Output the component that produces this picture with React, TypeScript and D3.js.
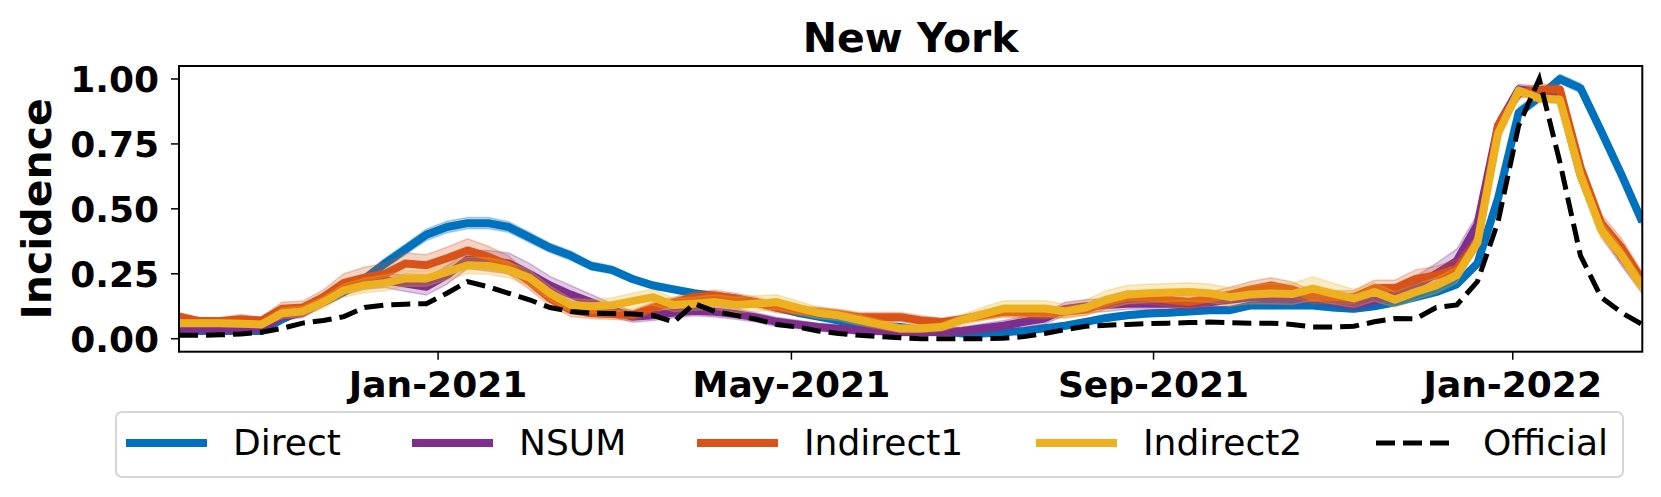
import React from 'react';
import * as d3 from 'd3';

// weekly points, 2020-10-05 .. 2022-02-14
const START = new Date(2020, 9, 5);
const N_WEEKS = 72;

const direct = [
  0.03, 0.03, 0.03, 0.03, 0.03, 0.075, 0.11, 0.14, 0.18, 0.23,
  0.29, 0.345, 0.40, 0.43, 0.445, 0.445, 0.43, 0.39, 0.35, 0.32,
  0.28, 0.265, 0.23, 0.205, 0.19, 0.175, 0.165, 0.155, 0.14, 0.12,
  0.10, 0.085, 0.07, 0.055, 0.05, 0.045, 0.035, 0.03, 0.02, 0.02,
  0.025, 0.03, 0.04, 0.05, 0.065, 0.08, 0.09, 0.097, 0.10, 0.105,
  0.11, 0.11, 0.128, 0.128, 0.128, 0.128, 0.12, 0.115, 0.125, 0.14,
  0.16, 0.18, 0.21, 0.29, 0.54, 0.87, 0.93, 1.0, 0.965, 0.80,
  0.63, 0.45,
];
const nsum = [
  0.04, 0.035, 0.035, 0.035, 0.037, 0.085, 0.10, 0.145, 0.19, 0.215,
  0.225, 0.212, 0.20, 0.245, 0.305, 0.30, 0.29, 0.25, 0.205, 0.17,
  0.14, 0.11, 0.085, 0.09, 0.10, 0.108, 0.104, 0.095, 0.082, 0.065,
  0.055, 0.045, 0.038, 0.032, 0.03, 0.026, 0.026, 0.026, 0.03, 0.04,
  0.05, 0.065, 0.078, 0.115, 0.125, 0.13, 0.135, 0.135, 0.135, 0.135,
  0.14, 0.15, 0.16, 0.155, 0.155, 0.16, 0.145, 0.13, 0.15, 0.17,
  0.205, 0.25, 0.30, 0.44, 0.82, 0.96, 0.95, 0.93, 0.63, 0.43,
  0.315, 0.205,
];
const indirect1 = [
  0.085, 0.068, 0.068, 0.075, 0.07, 0.115, 0.12, 0.16, 0.215, 0.235,
  0.25, 0.29, 0.283, 0.31, 0.34, 0.316, 0.283, 0.22, 0.155, 0.11,
  0.098, 0.095, 0.09, 0.12, 0.14, 0.16, 0.167, 0.155, 0.14, 0.12,
  0.108, 0.103, 0.095, 0.083, 0.083, 0.083, 0.07, 0.064, 0.075, 0.09,
  0.103, 0.10, 0.097, 0.105, 0.112, 0.14, 0.16, 0.16, 0.15, 0.141,
  0.155, 0.17, 0.19, 0.205, 0.19, 0.16, 0.16, 0.16, 0.195, 0.195,
  0.23, 0.244, 0.27, 0.37, 0.82, 0.945, 0.96, 0.96, 0.66, 0.445,
  0.35, 0.225,
];
const indirect2 = [
  0.06, 0.06, 0.06, 0.058, 0.055, 0.098, 0.105, 0.14, 0.186, 0.205,
  0.215, 0.232, 0.232, 0.257, 0.283, 0.28, 0.265, 0.235, 0.175, 0.13,
  0.125, 0.129, 0.145, 0.16, 0.13, 0.135, 0.141, 0.13, 0.135, 0.141,
  0.12, 0.10, 0.09, 0.072, 0.055, 0.039, 0.039, 0.045, 0.072, 0.095,
  0.116, 0.116, 0.116, 0.105, 0.12, 0.15, 0.17, 0.175, 0.178, 0.18,
  0.175, 0.16, 0.17, 0.174, 0.172, 0.193, 0.174, 0.155, 0.18, 0.15,
  0.18, 0.205, 0.245, 0.37, 0.79, 0.955, 0.925, 0.92, 0.63, 0.42,
  0.32, 0.20,
];
const official = [
  0.013, 0.013, 0.015, 0.018, 0.025, 0.04, 0.06, 0.07, 0.085, 0.12,
  0.13, 0.133, 0.135, 0.175, 0.22, 0.20, 0.175, 0.15, 0.12, 0.105,
  0.098, 0.097, 0.095, 0.09, 0.064, 0.135, 0.105, 0.09, 0.075, 0.055,
  0.045, 0.03, 0.02, 0.013, 0.008, 0.004, 0.0, 0.0, 0.0, 0.0,
  0.002, 0.008, 0.02, 0.035, 0.048, 0.052, 0.055, 0.058, 0.06, 0.062,
  0.064, 0.062, 0.06, 0.06, 0.055, 0.045, 0.045, 0.048, 0.065, 0.078,
  0.077, 0.12, 0.13, 0.22, 0.45, 0.82, 1.0, 0.68, 0.32, 0.16,
  0.10, 0.055,
];

// half widths of the shaded uncertainty bands
const directBand = [
  0.01, 0.01, 0.01, 0.01, 0.01, 0.012, 0.012, 0.014, 0.016, 0.018,
  0.02, 0.02, 0.022, 0.022, 0.022, 0.022, 0.02, 0.02, 0.018, 0.018,
  0.016, 0.015, 0.014, 0.013, 0.012, 0.012, 0.012, 0.011, 0.011, 0.01,
  0.01, 0.01, 0.01, 0.01, 0.01, 0.01, 0.01, 0.01, 0.01, 0.01,
  0.01, 0.01, 0.01, 0.012, 0.012, 0.012, 0.012, 0.012, 0.012, 0.012,
  0.012, 0.012, 0.012, 0.012, 0.012, 0.012, 0.012, 0.012, 0.012, 0.013,
  0.014, 0.015, 0.016, 0.018, 0.02, 0.02, 0.02, 0.018, 0.018, 0.018,
  0.018, 0.018,
];
const nsumBand = [
  0.012, 0.012, 0.012, 0.012, 0.012, 0.015, 0.018, 0.02, 0.022, 0.025,
  0.028, 0.03, 0.032, 0.035, 0.035, 0.04, 0.04, 0.04, 0.035, 0.035,
  0.03, 0.025, 0.022, 0.02, 0.02, 0.02, 0.02, 0.02, 0.018, 0.018,
  0.016, 0.015, 0.015, 0.015, 0.015, 0.015, 0.015, 0.015, 0.015, 0.018,
  0.02, 0.02, 0.022, 0.025, 0.025, 0.025, 0.022, 0.022, 0.022, 0.022,
  0.025, 0.025, 0.025, 0.025, 0.025, 0.025, 0.022, 0.022, 0.025, 0.03,
  0.035, 0.04, 0.045, 0.04, 0.03, 0.02, 0.02, 0.02, 0.03, 0.035,
  0.035, 0.03,
];
const indirect1Band = [
  0.015, 0.012, 0.012, 0.018, 0.012, 0.025, 0.025, 0.028, 0.035, 0.04,
  0.04, 0.04, 0.04, 0.042, 0.045, 0.04, 0.035, 0.03, 0.028, 0.025,
  0.02, 0.02, 0.02, 0.02, 0.02, 0.02, 0.02, 0.02, 0.02, 0.02,
  0.018, 0.018, 0.018, 0.018, 0.018, 0.018, 0.018, 0.015, 0.015, 0.018,
  0.02, 0.02, 0.02, 0.022, 0.022, 0.025, 0.025, 0.025, 0.025, 0.025,
  0.025, 0.028, 0.03, 0.03, 0.028, 0.025, 0.025, 0.025, 0.03, 0.03,
  0.035, 0.035, 0.035, 0.03, 0.03, 0.02, 0.02, 0.02, 0.035, 0.035,
  0.035, 0.03,
];
const indirect2Band = [
  0.012, 0.012, 0.012, 0.012, 0.012, 0.02, 0.02, 0.022, 0.025, 0.028,
  0.03, 0.03, 0.03, 0.03, 0.032, 0.032, 0.03, 0.03, 0.028, 0.025,
  0.025, 0.028, 0.03, 0.03, 0.025, 0.025, 0.028, 0.03, 0.03, 0.028,
  0.025, 0.022, 0.02, 0.02, 0.018, 0.015, 0.015, 0.015, 0.02, 0.025,
  0.03, 0.03, 0.03, 0.028, 0.03, 0.035, 0.035, 0.035, 0.035, 0.035,
  0.035, 0.035, 0.035, 0.04, 0.04, 0.045, 0.04, 0.035, 0.035, 0.03,
  0.03, 0.03, 0.03, 0.025, 0.02, 0.015, 0.015, 0.015, 0.035, 0.035,
  0.03, 0.03,
];

const xTickDates = [new Date(2021, 0, 1), new Date(2021, 4, 1), new Date(2021, 8, 1), new Date(2022, 0, 1)];
const xTickLabels = ['Jan-2021', 'May-2021', 'Sep-2021', 'Jan-2022'];
const yTicks = [0, 0.25, 0.5, 0.75, 1.0];
const yTickLabels = ['0.00', '0.25', '0.50', '0.75', '1.00'];

const series = [
  { name: 'Direct', values: direct, band: directBand, color: '#0072BD' },
  { name: 'NSUM', values: nsum, band: nsumBand, color: '#7E2F8E' },
  { name: 'Indirect1', values: indirect1, band: indirect1Band, color: '#D95319' },
  { name: 'Indirect2', values: indirect2, band: indirect2Band, color: '#EDB120' },
];

const W = 1661;
const H = 497;
const FONT = '"DejaVu Sans", sans-serif';
const plot = { left: 179, right: 1642.3, top: 66, bottom: 351.7 };

export default function App() {
  const weeks = d3.range(N_WEEKS).map(i => d3.timeDay.offset(START, 7 * i));

  const x = d3.scaleTime()
    .domain([weeks[0], weeks[N_WEEKS - 1]])
    .range([plot.left, plot.right]);
  const y = d3.scaleLinear()
    .domain([-0.05, 1.05])
    .range([plot.bottom, plot.top]);

  const line = d3.line<number>()
    .x((_, i) => x(weeks[i]))
    .y(d => y(d));

  const bandArea = (vals: number[], band: number[]) =>
    d3.area<number>()
      .x((_, i) => x(weeks[i]))
      .y0((d, i) => y(d - band[i]))
      .y1((d, i) => y(d + band[i]))(vals);

  // legend layout (matplotlib-like, one row)
  const legendEntries = [
    ...series.map(s => ({ name: s.name, color: s.color, dashed: false })),
    { name: 'Official', color: '#000', dashed: true },
  ];
  const legendX = [126, 412, 697, 1036, 1376];
  const legendY = 443;

  return (
    <svg width={W} height={H} style={{ position: 'absolute', left: 0, top: 0, background: '#fff' }}
      fontFamily={FONT}>
      <defs>
        <clipPath id="plotClip">
          <rect x={plot.left} y={plot.top} width={plot.right - plot.left} height={plot.bottom - plot.top} />
        </clipPath>
      </defs>

      {/* title */}
      <text x={(plot.left + plot.right) / 2} y={51.5} textAnchor="middle" fontSize={41} fontWeight="bold">New York</text>

      {/* y label */}
      <text transform={`translate(51,${(plot.top + plot.bottom) / 2}) rotate(-90)`} textAnchor="middle"
        fontSize={41} fontWeight="bold">Incidence</text>

      {/* data */}
      <g clipPath="url(#plotClip)">
        {series.map(s => (
          <g key={s.name}>
            <path d={bandArea(s.values, s.band) || ''} fill={s.color} fillOpacity={0.25}
              stroke={s.color} strokeOpacity={0.3} strokeWidth={1.5} />
            <path d={line(s.values) || ''} fill="none" stroke={s.color} strokeWidth={8}
              strokeLinejoin="round" />
          </g>
        ))}
        <path d={line(official) || ''} fill="none" stroke="#000" strokeWidth={5}
          strokeDasharray="19 8" />
      </g>

      {/* spines */}
      <rect x={plot.left} y={plot.top} width={plot.right - plot.left} height={plot.bottom - plot.top}
        fill="none" stroke="#000" strokeWidth={2} />

      {/* y ticks */}
      {yTicks.map((t, i) => (
        <g key={t}>
          <line x1={plot.left - 8} x2={plot.left} y1={y(t)} y2={y(t)} stroke="#000" strokeWidth={1.5} />
          <text x={plot.left - 20} y={y(t)} dy="0.36em" textAnchor="end" fontSize={36} fontWeight="bold">
            {yTickLabels[i]}
          </text>
        </g>
      ))}

      {/* x ticks */}
      {xTickDates.map((d, i) => (
        <g key={xTickLabels[i]}>
          <line x1={x(d)} x2={x(d)} y1={plot.bottom} y2={plot.bottom + 8} stroke="#000" strokeWidth={1.5} />
          <text x={x(d)} y={397} textAnchor="middle" fontSize={36} fontWeight="bold">{xTickLabels[i]}</text>
        </g>
      ))}

      {/* legend */}
      <rect x={116} y={412} width={1507} height={65} rx={6} fill="#fff" fillOpacity={0.8}
        stroke="#d6d6d6" strokeWidth={2} />
      {legendEntries.map((e, i) => (
        <g key={e.name}>
          <line x1={legendX[i]} x2={legendX[i] + 81} y1={legendY} y2={legendY} stroke={e.color}
            strokeWidth={e.dashed ? 5 : 8} strokeDasharray={e.dashed ? '19 8' : undefined} />
          <text x={legendX[i] + 107} y={455} fontSize={36}>{e.name}</text>
        </g>
      ))}
    </svg>
  );
}
